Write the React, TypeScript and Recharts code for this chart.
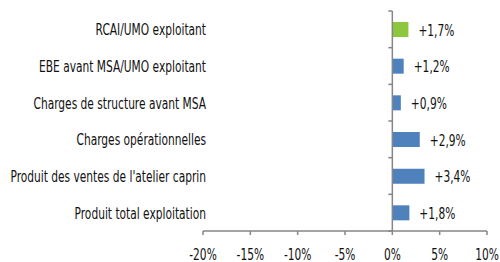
import { BarChart, Bar, XAxis, YAxis, Cell, LabelList, ReferenceLine } from "recharts";

const categories = [
  "RCAI/UMO exploitant",
  "EBE avant MSA/UMO exploitant",
  "Charges de structure avant MSA",
  "Charges opérationnelles",
  "Produit des ventes de l'atelier caprin",
  "Produit total exploitation",
];
const variations = [1.7, 1.2, 0.9, 2.9, 3.4, 1.8];
const xTicks = [-20, -15, -10, -5, 0, 5, 10];

const rows = categories.map((name, i) => ({ name, value: variations[i] }));

const FONT = "'DejaVu Sans Condensed', 'DejaVu Sans', sans-serif";
const AXIS_GRAY = "#868686";
const BLUE = "#4f81bd";
const GREEN = "#8dc63f";
// no narrow font installed, so squeeze the condensed one horizontally
const SQUEEZE = 0.74;

const fmtPct = (v: number) => `+${v.toFixed(1).replace(".", ",")}%`;

function NarrowText({ x, y, anchor, size = 16, children }: any) {
  return (
    <text
      transform={`translate(${x},${y}) scale(${SQUEEZE},1)`}
      textAnchor={anchor}
      fontFamily={FONT}
      fontStretch="condensed"
      fontSize={size}
      fill="#111"
    >
      {children}
    </text>
  );
}

/** Category labels sit slightly right of the plot edge, like the source. */
function CategoryTick({ x, y, payload }: any) {
  return (
    <NarrowText x={x + 11} y={y + 6} anchor="end">
      {payload.value}
    </NarrowText>
  );
}

function PercentTick({ x, y, payload }: any) {
  return (
    <NarrowText x={x} y={y + 21} anchor="middle">
      {`${payload.value}%`}
    </NarrowText>
  );
}

function ValueLabel({ x, y, width, height, value }: any) {
  return (
    <NarrowText x={x + width + 10} y={y + height / 2 + 6} anchor="start">
      {fmtPct(Number(value))}
    </NarrowText>
  );
}

/** Vertical axis at zero with tick marks on category boundaries. */
function ZeroAxis({ x1, y1, y2 }: any) {
  const n = categories.length;
  const step = (y2 - y1) / n;
  return (
    <g>
      <line x1={x1} y1={y1} x2={x1} y2={y2} stroke={AXIS_GRAY} strokeWidth={1.5} />
      {Array.from({ length: n + 1 }, (_, i) => (
        <line key={i} x1={x1 - 4} x2={x1} y1={y1 + i * step} y2={y1 + i * step} stroke={AXIS_GRAY} strokeWidth={1.5} />
      ))}
    </g>
  );
}

export default function App() {
  return (
    <div style={{ position: "absolute", left: 0, top: 0, width: 500, height: 262, background: "#fff" }}>
      <BarChart
        width={500}
        height={262}
        data={rows}
        layout="vertical"
        margin={{ top: 11, right: 13, left: 0, bottom: 0 }}
        barCategoryGap={0}
      >
        <XAxis
          type="number"
          domain={[-20, 10]}
          ticks={xTicks}
          height={31}
          stroke={AXIS_GRAY}
          strokeWidth={1.5}
          tickSize={4}
          tickMargin={4}
          tick={<PercentTick />}
          interval={0}
        />
        <YAxis
          type="category"
          dataKey="name"
          width={203}
          axisLine={false}
          tickLine={false}
          tick={<CategoryTick />}
          interval={0}
        />
        <ReferenceLine x={0} shape={<ZeroAxis />} ifOverflow="extendDomain" />
        <Bar dataKey="value" barSize={15} isAnimationActive={false}>
          {rows.map((r, i) => (
            <Cell key={r.name} fill={i === 0 ? GREEN : BLUE} />
          ))}
          <LabelList dataKey="value" content={<ValueLabel />} />
        </Bar>
      </BarChart>
    </div>
  );
}
